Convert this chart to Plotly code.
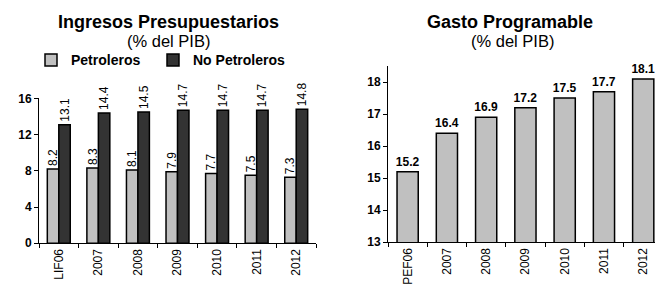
import plotly.graph_objects as go

cats_left = ["LIF06", "2007", "2008", "2009", "2010", "2011", "2012"]
petroleros = [8.2, 8.3, 8.1, 7.9, 7.7, 7.5, 7.3]
no_petroleros = [13.1, 14.4, 14.5, 14.7, 14.7, 14.7, 14.8]

cats_right = ["PEF06", "2007", "2008", "2009", "2010", "2011", "2012"]
gasto = [15.2, 16.4, 16.9, 17.2, 17.5, 17.7, 18.1]

FONT = "Liberation Sans, Arial, sans-serif"
LIGHT = "#c0c0c0"
DARK = "#333333"
VALFONT = dict(size=12, color="black", family=FONT)

fig = go.Figure()
fig.add_trace(go.Bar(
    x=cats_left, y=petroleros, name="<b>Petroleros</b>", xaxis="x", yaxis="y", legend="legend",
    marker=dict(color=LIGHT, line=dict(color="black", width=1.5)),
    text=[f"{v:.1f}" for v in petroleros], textposition="outside", textangle=-90,
    textfont=VALFONT, cliponaxis=False, constraintext="none",
))
fig.add_trace(go.Bar(
    x=cats_left, y=no_petroleros, name="<b>No Petroleros</b>", xaxis="x", yaxis="y", legend="legend2",
    marker=dict(color=DARK, line=dict(color="black", width=1.5)),
    text=[f"{v:.1f}" for v in no_petroleros], textposition="outside", textangle=-90,
    textfont=VALFONT, cliponaxis=False, constraintext="none",
))
fig.add_trace(go.Bar(
    x=cats_right, y=gasto, name="Gasto", xaxis="x2", yaxis="y2", showlegend=False,
    marker=dict(color=LIGHT, line=dict(color="black", width=1.5)), width=0.54,
    text=[f"<b>{v:.1f}</b>" for v in gasto], textposition="outside", textangle=0,
    textfont=VALFONT, cliponaxis=False, constraintext="none",
))

axis_common = dict(showgrid=False, zeroline=False, showline=True, linecolor="black", linewidth=1,
                   ticks="outside", ticklen=4, tickcolor="black")
xfont = dict(size=12, color="black", family=FONT)
yfont = dict(size=12, color="black", family=FONT, weight="bold")
legfont = dict(size=14, family=FONT, color="black")
LEG_Y = (295 - 56) / 295

fig.update_layout(
    width=655, height=295,
    margin=dict(l=0, r=0, t=0, b=0),
    paper_bgcolor="white", plot_bgcolor="white",
    font=dict(family=FONT, color="black", size=12),
    barmode="group", bargap=0.42, bargroupgap=0,
    xaxis=dict(domain=[39/655, 316/655], anchor="y", type="category",
               tickson="boundaries", tickangle=-90, range=[-0.5, 6.5], tickfont=xfont, **axis_common),
    yaxis=dict(domain=[(295-248)/295, (295-96)/295], anchor="x", range=[0, 16],
               tickvals=[0, 4, 8, 12, 16], tickfont=yfont, **axis_common),
    xaxis2=dict(domain=[388/655, 1.0], anchor="y2", type="category",
                tickson="boundaries", tickangle=-90, range=[-0.5, 6.3], tickfont=xfont, **axis_common),
    yaxis2=dict(domain=[(295-247)/295, (295-62)/295], anchor="x2", range=[13, 18.5],
                tickvals=[13, 14, 15, 16, 17, 18], tickfont=yfont, **axis_common),
    legend=dict(orientation="h", x=31/655, xanchor="left", y=LEG_Y, yanchor="middle",
                font=legfont, itemwidth=30, bgcolor="rgba(0,0,0,0)"),
    legend2=dict(orientation="h", x=153/655, xanchor="left", y=LEG_Y, yanchor="middle",
                 font=legfont, itemwidth=30, bgcolor="rgba(0,0,0,0)"),
    showlegend=True,
    annotations=[
        dict(text="<b>Ingresos Presupuestarios</b>", x=169/655, y=(295-16)/295, xref="paper", yref="paper",
             showarrow=False, font=dict(size=18, family=FONT, color="black"), xanchor="center", yanchor="middle"),
        dict(text="(% del PIB)", x=169/655, y=(295-36)/295, xref="paper", yref="paper",
             showarrow=False, font=dict(size=16.5, family=FONT, color="black"), xanchor="center", yanchor="middle"),
        dict(text="<b>Gasto Programable</b>", x=510/655, y=(295-16)/295, xref="paper", yref="paper",
             showarrow=False, font=dict(size=18, family=FONT, color="black"), xanchor="center", yanchor="middle"),
        dict(text="(% del PIB)", x=512/655, y=(295-36)/295, xref="paper", yref="paper",
             showarrow=False, font=dict(size=16.5, family=FONT, color="black"), xanchor="center", yanchor="middle"),
    ],
)

fig.write_html("out.html", config={"displayModeBar": False})

# remove default browser body margin so the figure fills the window exactly
with open("out.html", "r", encoding="utf-8") as f:
    html = f.read()
html = html.replace("<body>", '<body style="margin:0;padding:0;overflow:hidden">', 1)
with open("out.html", "w", encoding="utf-8") as f:
    f.write(html)
